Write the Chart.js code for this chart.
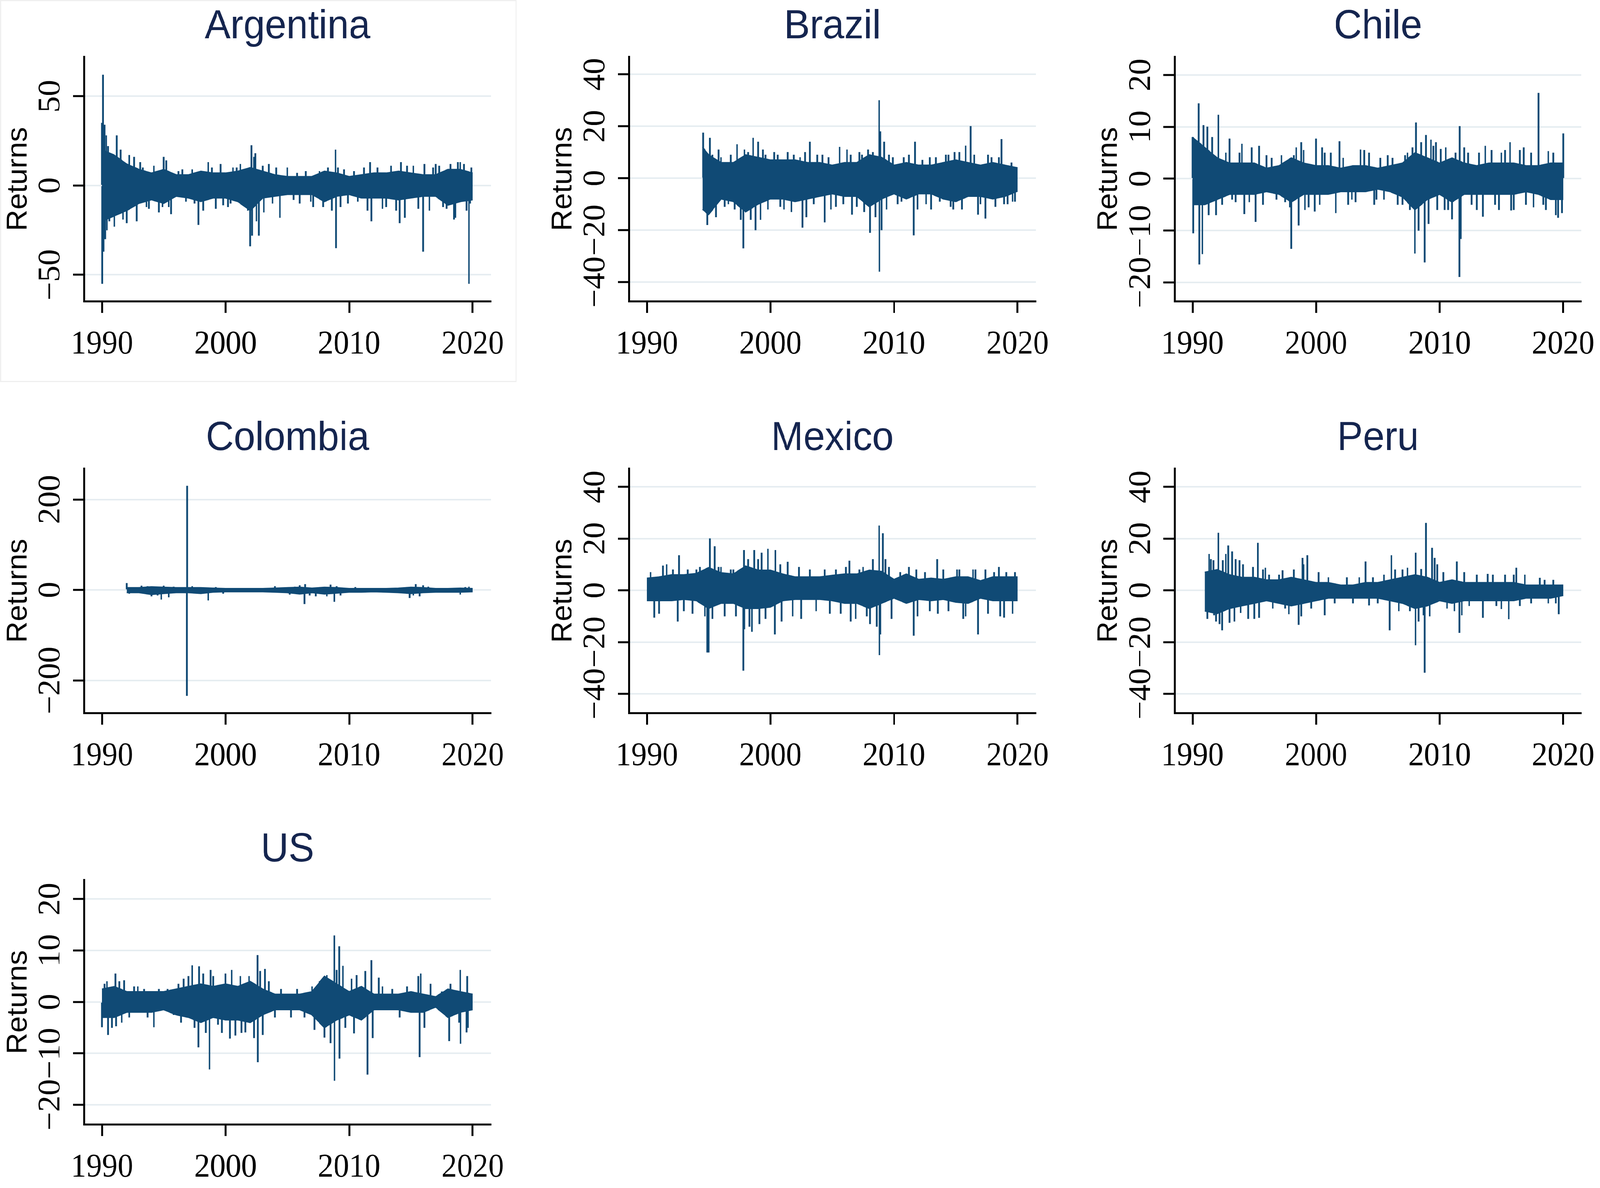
<!DOCTYPE html>
<html>
<head>
<meta charset="utf-8">
<script src="https://cdn.jsdelivr.net/npm/chart.js@4.4.1/dist/chart.umd.min.js"></script>
<style>
  html, body { margin: 0; padding: 0; background: #fff; overflow: hidden; }
  #page { position: relative; width: 4299px; height: 3041px; overflow: hidden; transform-origin: 0 0; }
  .panel { position: absolute; width: 1464px; height: 1000px; }
  .frame { position: absolute; left: 0; top: 0; width: 1388px; height: 978px;
           border: 3px solid #efefef; box-sizing: border-box; }
</style>
</head>
<body>
<div id="page"><div class="frame"></div></div>
<script>
// ---- data ----
const YEARS = [1990, 1991, 1992, 1993, 1994, 1995, 1996, 1997, 1998, 1999, 2000,
               2001, 2002, 2003, 2004, 2005, 2006, 2007, 2008, 2009, 2010,
               2011, 2012, 2013, 2014, 2015, 2016, 2017, 2018, 2019, 2020];
const X_TICKS = [1990, 2000, 2010, 2020];

// Argentina: dense band (upper / lower edge per year) + single-day spikes [year, return]
const argX  = YEARS;
const argHi = [20, 17, 12, 9, 7, 9, 6, 6, 8, 7, 7, 8, 10, 8, 6, 5, 5, 5, 8, 7, 5, 6, 7, 7, 8, 7, 6, 6, 9, 9, 7];
const argLo = [-20, -17, -14, -10, -8, -10, -6, -7, -9, -7, -7, -9, -14, -7, -6, -5, -5, -5, -9, -6, -5, -7, -7, -7, -8, -7, -6, -6, -11, -9, -8];
const argSpikes = [
  [1990.0, 35], [1990.02, -55], [1990.08, 62], [1990.12, -37], [1990.2, 34], [1990.25, -30],
  [1990.35, 28], [1990.4, -25], [1990.5, 22], [1990.6, -20], [1991.0, -23], [1991.2, 28],
  [1991.5, 20], [1991.7, -19], [1992.0, -21], [1992.2, 17], [1992.6, 16], [1992.8, -20],
  [1993.1, 13], [1993.3, 10], [1993.6, -12], [1993.8, -13], [1994.2, 11], [1994.6, -15],
  [1994.9, -12], [1995.0, 16], [1995.2, 14], [1995.4, -12], [1995.6, -16], [1996.2, 8],
  [1996.5, 9], [1996.8, -9], [1997.3, 9], [1997.5, -10], [1997.8, -22], [1998.2, -14],
  [1998.6, 13], [1998.9, 10], [1999.2, -13], [1999.6, 12], [1999.8, -11], [2000.2, -12],
  [2000.4, -10], [2000.6, 10], [2000.9, 10], [2001.2, 12], [2001.5, -11], [2001.8, -14],
  [2002.0, -34], [2002.1, 22.5], [2002.15, -28], [2002.3, 16], [2002.4, 18], [2002.5, -20],
  [2002.7, -28], [2003.0, 11], [2003.1, -15], [2003.5, 12], [2003.8, -10], [2004.1, 10],
  [2004.4, -18], [2005.0, 10], [2005.5, -8], [2005.8, 7], [2006.0, -10], [2006.5, 8],
  [2006.9, -9], [2007.1, -12], [2007.6, 8], [2007.9, -12], [2008.3, 10], [2008.6, -14],
  [2008.9, 20], [2008.95, -35], [2009.1, 10], [2009.3, -12], [2009.6, 9], [2009.9, -10],
  [2010.4, 8], [2010.7, -9], [2011.2, 10], [2011.5, -14], [2011.7, 13], [2011.8, -20],
  [2012.3, 10], [2012.7, -13], [2013.0, -12], [2013.4, 11], [2013.8, -14], [2014.1, -21],
  [2014.2, 13], [2014.5, -18], [2014.7, 11], [2015.2, 11], [2015.6, -13], [2016.0, -37],
  [2016.1, 12], [2016.5, -14], [2016.8, 10], [2017.0, 12], [2017.3, 11], [2017.6, -12],
  [2017.9, -13], [2018.2, 12], [2018.5, -19], [2018.6, -18], [2018.8, 13], [2019.0, 13],
  [2019.3, 12], [2019.5, -14], [2019.7, -55], [2019.8, -10], [2019.9, 10]
];

// Brazil (starts mid-1994)
const braX  = [1994.5, ...YEARS.slice(5)];
const braHi = [12, 9, 6, 6, 9, 8, 7, 7, 7, 6, 6, 5, 6, 6, 9, 8, 5, 6, 5, 5, 6, 7, 6, 5, 6, 5, 4];
const braLo = [-12, -14, -8, -9, -13, -10, -8, -8, -9, -8, -7, -6, -7, -7, -11, -8, -6, -8, -6, -6, -8, -9, -7, -7, -8, -7, -5];
const braSpikes = [
  [1994.55, 17.5], [1994.6, -12], [1994.9, -18], [1995.1, 15.5], [1995.3, 9], [1995.6, -15],
  [1995.8, 11], [1996.0, 8], [1996.3, -11], [1996.6, -10], [1996.8, 9], [1997.1, -12],
  [1997.3, 13], [1997.6, -16], [1997.8, -27], [1997.9, 11], [1998.2, 10], [1998.4, -16],
  [1998.6, 15.5], [1998.8, -20], [1999.0, 14], [1999.2, -16], [1999.4, 11], [1999.6, 9],
  [1999.8, -12], [2000.3, 10], [2000.6, 9], [2000.8, -11], [2001.1, -12], [2001.4, 10],
  [2001.7, -13], [2001.9, 9], [2002.4, 8], [2002.6, -19], [2002.8, 10], [2002.9, -15],
  [2003.2, 14], [2003.5, -10], [2003.8, 9], [2004.2, 9], [2004.4, -17], [2004.7, 8],
  [2004.9, -12], [2005.3, -11], [2005.6, 12], [2005.9, -10], [2006.2, 11], [2006.5, 9],
  [2006.6, -14], [2007.0, -11], [2007.2, 10], [2007.4, 9], [2007.6, -13], [2007.9, 11],
  [2008.05, -21], [2008.3, 10], [2008.5, -15], [2008.8, 30], [2008.82, -36], [2008.9, 18],
  [2009.0, -20], [2009.2, 14], [2009.4, -12], [2009.6, 9], [2009.9, 8], [2010.3, -10],
  [2010.6, -9], [2010.8, 8], [2011.2, 9], [2011.6, -22], [2011.7, 14], [2011.9, -12],
  [2012.3, 7], [2012.6, -10], [2012.9, 8], [2013.0, -12], [2013.4, 8], [2013.7, -9],
  [2014.2, 9], [2014.4, 9], [2014.6, -11], [2014.8, -12], [2014.9, 10], [2015.3, 10],
  [2015.5, -12], [2015.8, 12.5], [2016.2, 20], [2016.5, 9], [2016.8, -14], [2017.0, -10],
  [2017.4, -15.5], [2017.6, 9], [2017.9, 8], [2018.2, -11], [2018.5, 8], [2018.7, 15],
  [2018.9, -10], [2019.2, -10], [2019.5, 6], [2019.6, -9], [2019.8, -9]
];

// Chile
const chlX  = YEARS;
const chlHi = [8, 6, 4, 3, 3, 3, 2, 2.5, 4, 3, 2.5, 2.5, 2, 2.5, 2.5, 2, 2.5, 3, 5, 4, 3, 4, 3, 2.5, 3, 3, 3, 2.5, 2.5, 3, 3];
const chlLo = [-5, -5, -4, -3, -3, -3, -2.5, -3, -4.5, -3, -3, -3, -2.5, -2.5, -2.5, -2, -2.5, -3.5, -6, -4, -3, -4.5, -3, -3, -3, -3, -3, -2.5, -3, -4, -4];
const chlSpikes = [
  [1990.0, 8], [1990.05, -10.5], [1990.5, 14.5], [1990.55, -16.5], [1990.8, -14.5], [1990.9, 10.3],
  [1991.2, 10], [1991.3, -7], [1991.6, 8], [1991.9, -7], [1992.1, 12.3], [1992.4, -5],
  [1992.7, 5], [1993.0, 7.7], [1993.2, -4], [1993.5, -4.5], [1993.8, 5], [1994.0, 6.7],
  [1994.2, -6.8], [1994.6, -4.5], [1994.8, 6], [1995.1, -8.3], [1995.4, 6.3], [1995.7, -5],
  [1996.0, 4.5], [1996.4, 4], [1996.8, -4], [1997.2, 4.5], [1997.5, -4.5], [1997.9, -5.5],
  [1998.0, -13.5], [1998.2, 4.5], [1998.4, 6], [1998.6, -9], [1998.8, 7], [1999.0, 5.5],
  [1999.1, -6], [1999.4, -5.5], [1999.9, -6.3], [2000.0, 7.7], [2000.3, -5], [2000.5, 6],
  [2000.7, 5], [2001.2, 5], [2001.6, -6.6], [2001.9, 7.2], [2002.2, 4], [2002.6, -5],
  [2002.9, -4], [2003.2, -4.5], [2003.6, 5.6], [2003.9, 5.5], [2004.3, 5], [2004.7, -5],
  [2004.9, -4], [2005.2, 4], [2005.5, -4], [2005.8, 4.5], [2006.2, 4], [2006.6, -5],
  [2007.0, -5], [2007.2, 4.5], [2007.4, 5], [2007.6, -6], [2007.8, 6], [2008.0, -14.4],
  [2008.1, 10.8], [2008.3, -10], [2008.5, 7], [2008.8, -16.1], [2008.9, 8.4], [2009.1, -8.7],
  [2009.3, 7.5], [2009.5, 6.3], [2009.7, 7], [2009.8, -6], [2010.1, 5.7], [2010.4, -6],
  [2010.5, 6], [2010.7, -6], [2011.0, -7.8], [2011.3, 5], [2011.6, -18.9], [2011.62, 10.1],
  [2011.7, -11.6], [2012.0, 6], [2012.3, 5], [2012.6, -5], [2013.0, -6], [2013.2, 5],
  [2013.5, -7.3], [2013.7, 6.3], [2014.2, 5.5], [2014.5, -5], [2014.8, -6], [2015.0, 5],
  [2015.3, 5.5], [2015.7, 7], [2015.8, -6.1], [2016.0, -6], [2016.5, 5.5], [2016.8, 6],
  [2017.0, -5], [2017.4, 5], [2017.6, -5.5], [2018.0, 16.5], [2018.4, -5], [2018.6, -6],
  [2018.8, 5.3], [2019.2, 5], [2019.4, -7], [2019.6, -7.5], [2019.9, -6.6], [2020.0, 8.7]
];

// Colombia (starts 1992)
const colX  = YEARS.slice(2);
const colHi = [5, 5, 7, 6, 5, 5, 5, 4, 3, 3, 3, 3, 4, 5, 6, 4, 6, 5, 3, 3, 3, 3, 4, 6, 5, 3, 3, 4, 3];
const colLo = [-6, -6, -10, -8, -6, -6, -8, -5, -4, -4, -4, -4, -5, -6, -9, -6, -9, -7, -5, -5, -4, -5, -6, -8, -6, -5, -5, -5, -4];
const colSpikes = [
  [1992.0, 15], [1992.2, -8], [1993.2, 9], [1993.7, 8], [1994.0, -14], [1994.5, -12],
  [1994.8, -21], [1995.0, 9], [1995.4, -16], [1995.8, 7], [1996.9, 230], [1996.88, -234],
  [1997.3, 8], [1998.6, -23], [1999.2, 6], [1999.8, -8], [2004.0, 8], [2005.2, -10],
  [2005.6, 7], [2006.0, 10], [2006.4, -31], [2006.45, 12.6], [2006.8, -12], [2007.3, -14],
  [2008.2, -14], [2008.5, 11.5], [2008.8, -26], [2009.0, 8], [2009.3, -12], [2010.5, 6],
  [2014.9, -17.5], [2015.2, -12], [2015.4, 12.6], [2015.7, -14], [2016.0, 10], [2016.4, 7],
  [2019.0, -10], [2019.4, 6], [2019.7, 7]
];

// Mexico
const mexX  = YEARS;
const mexHi = [4.7, 5.2, 6, 6, 6.5, 8.8, 6.8, 6.3, 9.4, 7.8, 7.8, 6.3, 5.2, 5.2, 5.2, 5.8, 6.3, 6.3, 7.8, 7.3, 4.2, 6.3, 4.2, 4.7, 4.2, 5.2, 5.2, 3.7, 5.2, 5.2, 5.2];
const mexLo = [-4, -4, -4, -3.5, -4, -7, -5, -5, -7, -7, -6.5, -4, -3.5, -3.5, -3.5, -4, -5, -5, -7, -5, -3, -5, -3.5, -4, -3.5, -4.6, -5, -3, -4, -4, -4];
const mexSpikes = [
  [1990.3, 7], [1990.6, -10.5], [1991.0, -9], [1991.3, 9.5], [1991.6, 10], [1992.1, 8],
  [1992.5, -12], [1992.6, 13.5], [1993.0, -8], [1993.3, 8], [1993.7, -9], [1994.0, 8],
  [1994.3, 9], [1994.7, -10], [1994.9, -24], [1995.0, -24], [1995.1, 20], [1995.3, -11],
  [1995.5, 17], [1995.8, 9], [1996.0, 9], [1996.3, -10], [1996.8, 8], [1997.0, 8],
  [1997.2, -10], [1997.8, -31], [1997.85, 15.5], [1997.9, -15], [1998.2, 12], [1998.3, -14],
  [1998.5, -16], [1998.7, 15.5], [1999.0, 12], [1999.1, -13], [1999.3, 14.5], [1999.6, -11],
  [1999.8, 16], [2000.35, -17], [2000.4, 15.5], [2000.8, 10], [2000.9, -12], [2001.4, 11],
  [2001.8, -10], [2002.3, 9], [2002.5, -11], [2003.2, 8], [2003.7, -8], [2004.4, 8],
  [2004.8, -9], [2005.3, 8], [2005.7, -9], [2006.1, 9], [2006.4, 11.4], [2006.5, -12],
  [2006.9, -11], [2007.2, 8], [2007.5, 9], [2007.8, -10], [2008.05, -13], [2008.3, 12],
  [2008.6, -14], [2008.8, 25], [2008.82, -25], [2008.9, -17], [2009.1, 22], [2009.3, 12],
  [2009.6, 9], [2009.8, -11], [2010.5, 7], [2011.2, 9], [2011.6, -17.5], [2011.8, 8],
  [2011.9, -10], [2012.5, 7], [2012.9, -8], [2013.5, 12], [2013.55, -9], [2014.0, 8],
  [2014.4, -8], [2015.1, 8], [2015.3, 8], [2015.6, -11], [2015.8, -10], [2016.4, 8],
  [2016.6, 8], [2016.8, -17], [2017.4, 8], [2017.6, -9], [2018.1, 7], [2018.5, 9],
  [2018.6, -10], [2018.9, -10.5], [2019.1, 7], [2019.6, -9], [2019.8, 7]
];

// Peru (starts 1991)
const perX  = YEARS.slice(1);
const perHi = [7, 8, 6, 5, 5, 4, 4, 5, 4, 3, 3, 2, 2, 3, 3, 4, 5, 6, 5, 3, 4, 3, 3, 3, 3, 3, 2, 2, 2, 2];
const perLo = [-8, -9, -7, -6, -5, -4, -5, -6, -5, -4, -3, -3, -3, -3, -3, -4, -5, -7, -6, -4, -5, -4, -4, -4, -4, -4, -3, -3, -3, -2];
const perSpikes = [
  [1991.2, -11], [1991.35, 14], [1991.5, 12], [1991.7, 11.6], [1991.75, -9.6], [1991.9, -12],
  [1992.1, 22.2], [1992.2, -13], [1992.4, -15.4], [1992.45, 11.6], [1992.7, 14], [1992.9, 17.3],
  [1993.0, -12.5], [1993.2, 15], [1993.4, -12], [1993.5, 12], [1993.8, 11.6], [1993.9, -8.7],
  [1994.1, 10], [1994.5, -11], [1994.9, 9], [1995.0, -11], [1995.3, 18.3], [1995.4, -10.6],
  [1995.7, 8], [1995.9, 8.7], [1996.2, 6], [1996.5, -7], [1997.0, 6], [1997.3, 7.7],
  [1997.5, -7], [1997.8, -9.2], [1998.2, 8], [1998.6, -13.3], [1998.8, -10], [1998.9, 12.5],
  [1999.0, 10], [1999.3, 13.5], [1999.6, -7], [2000.2, 7], [2000.7, -9.6], [2001.0, 5],
  [2001.5, -5], [2002.5, 5], [2003.0, -5], [2003.5, 5], [2004.0, 11.1], [2004.3, -5.8],
  [2004.6, 5], [2005.0, -5], [2005.5, 6], [2005.95, -15.4], [2006.1, 13.5], [2006.4, 8],
  [2006.7, -8], [2007.0, 8], [2007.4, 8.7], [2007.6, -8], [2008.05, -21.2], [2008.07, 14.5],
  [2008.3, -12], [2008.5, 8.2], [2008.7, -9.6], [2008.8, -31.8], [2008.9, 26], [2009.2, -10],
  [2009.4, 16.4], [2009.6, 12.5], [2009.8, 10], [2010.3, 7], [2010.6, -7], [2011.2, -8],
  [2011.4, 11.1], [2011.6, -16.4], [2011.8, -9.6], [2012.0, 7], [2012.4, -6], [2013.0, 6],
  [2013.5, -10.6], [2013.9, 6.3], [2014.3, 6], [2014.6, -6], [2015.0, -7.2], [2015.3, 6],
  [2015.6, -11.1], [2016.0, 6], [2016.2, 8.7], [2016.5, -6], [2016.9, 6], [2017.4, -5],
  [2018.1, 4.8], [2018.5, 4], [2018.8, -5], [2019.2, 4], [2019.4, -5], [2019.65, -9.2],
  [2019.9, 2.1]
];

// US
const usaX  = YEARS;
const usaHi = [2.5, 3, 2, 2, 2, 2, 2.5, 3, 3.5, 3, 3.5, 3, 4, 2.5, 1.5, 1.5, 1.5, 2, 5, 3.5, 2, 3, 1.5, 1.5, 1.5, 2, 1.5, 1, 2.5, 2, 1.5];
const usaLo = [-3, -3, -2, -2, -2, -1.5, -2.5, -3, -4, -3, -3.5, -3.5, -4, -2.5, -1.5, -1.5, -1.5, -2.5, -5, -3.5, -2.5, -3.5, -1.5, -1.5, -1.5, -2, -2, -1, -3, -2, -1.5];
const usaSpikes = [
  [1990.0, -4.9], [1990.2, 3.5], [1990.4, 4], [1990.5, -6.4], [1990.8, -5], [1991.1, 5.5],
  [1991.15, -4.7], [1991.4, 4], [1991.6, -4], [1991.8, 4.2], [1992.2, -3], [1992.6, 3],
  [1992.9, 3], [1993.4, 2.5], [1993.7, -3], [1994.2, -4.9], [1994.6, 2.5], [1995.3, 2.5],
  [1995.8, -2.5], [1996.2, 3.5], [1996.4, -4], [1996.6, 4.5], [1997.0, 5], [1997.3, 7.1],
  [1997.5, -5], [1997.8, -8.8], [1997.85, 6.9], [1998.2, 5.5], [1998.4, -6], [1998.7, -13.1],
  [1998.8, 6.2], [1999.0, 5], [1999.4, -4.4], [1999.7, -6], [2000.0, 5.5], [2000.35, -7.1],
  [2000.5, 6.2], [2000.8, -6.5], [2001.2, 5], [2001.3, -6], [2001.6, -5.9], [2001.9, 5],
  [2002.3, -7], [2002.6, 9.1], [2002.62, -11.7], [2002.8, 6], [2003.0, -6.4], [2003.2, 6.4],
  [2003.5, 4], [2004.0, -3], [2004.5, 2.5], [2005.3, -3], [2005.8, 2.5], [2006.4, -3],
  [2007.0, 3], [2007.2, -5.4], [2007.6, 4], [2008.0, -6.9], [2008.2, 5.2], [2008.5, -8],
  [2008.8, 12.9], [2008.82, -15.3], [2009.0, 6.2], [2009.2, 10.8], [2009.22, -11], [2009.5, 7],
  [2009.7, -5], [2010.2, 4.5], [2010.4, -6.1], [2010.6, 5.2], [2011.3, 6], [2011.5, -14.1],
  [2011.8, 8.1], [2011.9, -7], [2012.4, 4.7], [2012.7, 3], [2013.5, 2.5], [2014.1, -3],
  [2014.7, 3], [2015.6, 5], [2015.7, -10.7], [2015.8, 5.5], [2016.1, -5], [2016.6, 3.5],
  [2017.5, 2], [2018.1, -7.6], [2018.2, 3.5], [2018.9, -4], [2019.0, 6.2], [2019.02, -8.1],
  [2019.5, -5.9], [2019.55, 5], [2019.6, -5]
];

// ---- look ----
const NAVY = "#104a75";
const TITLE_COLOR = "#15254f";
const GRID = "#e6edf1";
const SANS = '"Liberation Sans", Arial, sans-serif';
const SERIF = '"Liberation Serif", "Times New Roman", serif';
const TICK_SIZE = 84;

const panels = [
  { name: "Argentina", left: 0,    top: 0,    x: argX, hi: argHi, lo: argLo, spikes: argSpikes, yMin: -64.8, yMax: 72,    yTicks: [-50, 0, 50] },
  { name: "Brazil",    left: 1464, top: 0,    x: braX, hi: braHi, lo: braLo, spikes: braSpikes, yMin: -47.4, yMax: 46.7,  yTicks: [-40, -20, 0, 20, 40] },
  { name: "Chile",     left: 2930, top: 0,    x: chlX, hi: chlHi, lo: chlLo, spikes: chlSpikes, yMin: -23.6, yMax: 23.45, yTicks: [-20, -10, 0, 10, 20] },
  { name: "Colombia",  left: 0,    top: 1054, x: colX, hi: colHi, lo: colLo, spikes: colSpikes, yMin: -272,  yMax: 268,   yTicks: [-200, 0, 200] },
  { name: "Mexico",    left: 1464, top: 1054, x: mexX, hi: mexHi, lo: mexLo, spikes: mexSpikes, yMin: -47.4, yMax: 47,    yTicks: [-40, -20, 0, 20, 40] },
  { name: "Peru",      left: 2930, top: 1054, x: perX, hi: perHi, lo: perLo, spikes: perSpikes, yMin: -47.4, yMax: 47,    yTicks: [-40, -20, 0, 20, 40] },
  { name: "US",        left: 0,    top: 2107, x: usaX, hi: usaHi, lo: usaLo, spikes: usaSpikes, yMin: -23.8, yMax: 23.7,  yTicks: [-20, -10, 0, 10, 20] },
];

const fmt = v => (v < 0 ? "\u2212" + Math.abs(v) : String(v));

// rotated y labels are centred by Chart.js using their unrotated width, so
// measure the widest one to keep every label the same distance from the axis
const measureCtx = document.createElement("canvas").getContext("2d");
function widestLabel(ticks) {
  measureCtx.font = `${TICK_SIZE}px ${SERIF}`;
  return Math.max(...ticks.map(t => measureCtx.measureText(fmt(t)).width));
}

const page = document.getElementById("page");
// the window may be narrower than the 4299px layout: squeeze it to fit
const squeeze = Math.min(1, window.innerWidth / 4299);
page.style.transform = `scale(${squeeze}, 1)`;

function drawPanel(p) {
  const wrap = document.createElement("div");
  wrap.className = "panel";
  wrap.style.left = p.left + "px";
  wrap.style.top = p.top + "px";
  const canvas = document.createElement("canvas");
  canvas.width = 1464;
  canvas.height = 1000;
  wrap.appendChild(canvas);
  page.appendChild(wrap);

  const pts = ys => p.x.map((x, i) => ({ x, y: ys[i] }));
  const yPad = 58 - widestLabel(p.yTicks) / 2;

  new Chart(canvas, {
    type: "line",
    data: {
      datasets: [
        { data: pts(p.hi), borderColor: NAVY, borderWidth: 3, pointRadius: 0, fill: false, tension: 0 },
        { data: pts(p.lo), borderColor: NAVY, borderWidth: 3, pointRadius: 0, fill: "-1", backgroundColor: NAVY, tension: 0 },
        { type: "bar", data: p.spikes.map(([x, v]) => ({ x, y: [0, v] })),
          backgroundColor: NAVY, borderWidth: 0, barThickness: 4 },
      ],
    },
    options: {
      responsive: false,
      animation: false,
      devicePixelRatio: 1,
      layout: { padding: { left: 0, right: 145, top: 0, bottom: 29 } },
      plugins: {
        legend: { display: false },
        tooltip: { enabled: false },
        title: {
          display: true, text: p.name, fullSize: false, color: TITLE_COLOR,
          font: { family: SANS, size: 104, weight: "normal" },
          padding: { top: 7, bottom: 14 },
        },
      },
      scales: {
        x: {
          type: "linear", min: 1988.554, max: 2021.476, offset: false,
          afterBuildTicks: s => { s.ticks = X_TICKS.map(v => ({ value: v })); },
          afterFit: s => { s.height = 200; },
          ticks: { callback: v => String(v), color: "#000", font: { family: SERIF, size: TICK_SIZE },
                   padding: 32, maxRotation: 0, autoSkip: false },
          grid: { display: true, drawOnChartArea: false, drawTicks: true, tickLength: 30,
                  tickWidth: 5, tickColor: "#000", offset: false },
          border: { display: true, color: "#000", width: 5 },
        },
        y: {
          type: "linear", min: p.yMin, max: p.yMax,
          afterBuildTicks: s => { s.ticks = p.yTicks.map(v => ({ value: v })); },
          afterFit: s => { s.width = 226; },
          title: { display: true, text: "Returns", color: "#000",
                   font: { family: SANS, size: 76 }, padding: { top: 4, bottom: 0 } },
          ticks: { callback: fmt, color: "#000", font: { family: SERIF, size: TICK_SIZE },
                   minRotation: 90, maxRotation: 90, crossAlign: "center", padding: yPad, autoSkip: false },
          grid: { color: GRID, lineWidth: 4, drawTicks: true, tickLength: 30, tickWidth: 5, tickColor: "#000" },
          border: { display: true, color: "#000", width: 5 },
        },
      },
    },
  });
}

panels.forEach(drawPanel);
</script>
</body>
</html>
